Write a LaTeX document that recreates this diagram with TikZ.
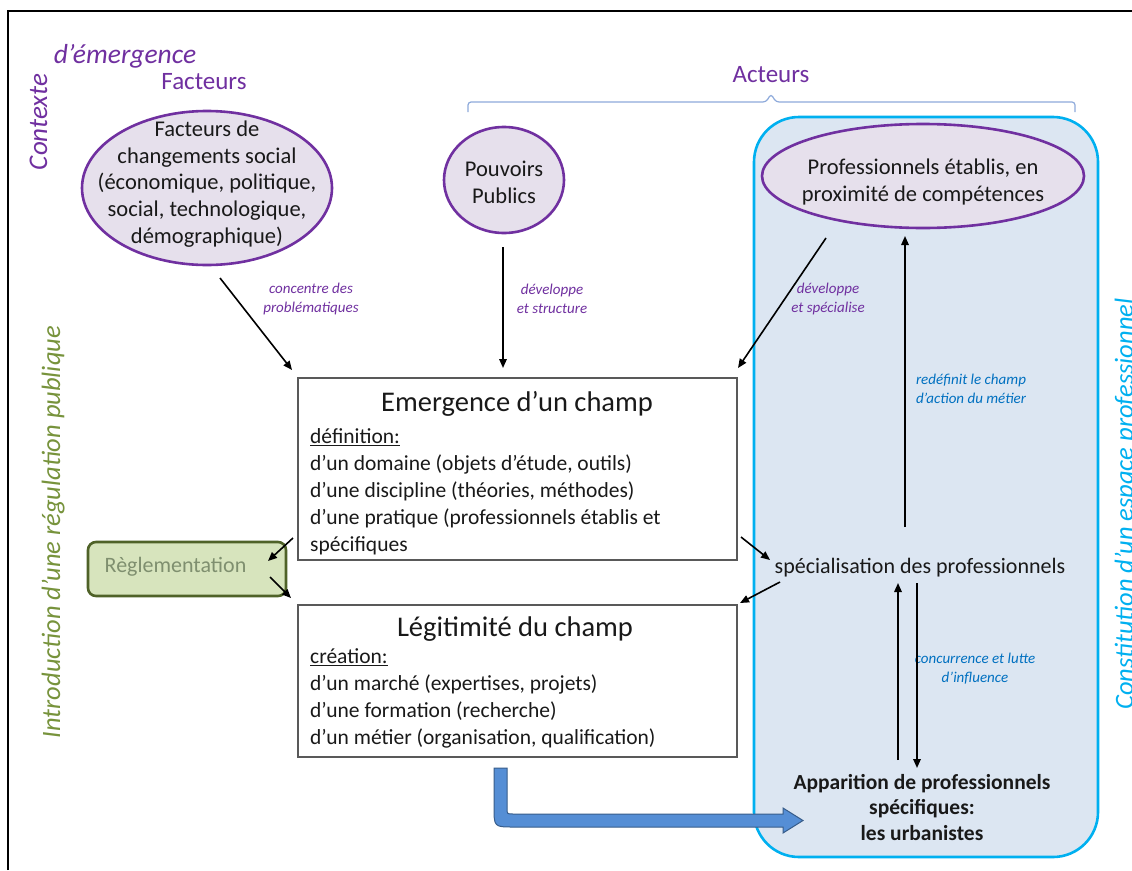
\documentclass[tikz,border=0pt]{standalone}
\usepackage{fontspec}
\setmainfont{Carlito}
\usetikzlibrary{shapes.geometric,arrows.meta}
\definecolor{purpleA}{HTML}{7030A0}
\definecolor{lav}{HTML}{E6E0EC}
\definecolor{zoneFill}{HTML}{DCE6F2}
\definecolor{zoneDraw}{HTML}{00B0F0}
\definecolor{blueT}{HTML}{0070C0}
\definecolor{greenT}{HTML}{77933C}
\definecolor{reglFill}{HTML}{D7E4BD}
\definecolor{reglDraw}{HTML}{4F6228}
\definecolor{reglText}{HTML}{7F8F6F}
\definecolor{braceC}{HTML}{8EAADB}
\definecolor{bigFill}{HTML}{558ED5}
\definecolor{bigDraw}{HTML}{385D8A}
\newcommand{\myfs}[2]{\fontsize{#1}{#2}\selectfont}
\begin{document}
\begin{tikzpicture}[x=1pt,y=-1pt,
  arr/.style={line width=1.6pt,-{Triangle[length=9pt,width=7.5pt]}},
  ell/.style={ellipse,draw=purpleA,line width=2.6pt,fill=lav,inner sep=0pt},
  txt/.style={font=\myfs{22.5}{26.7},align=center,inner sep=0pt,text=black!90},
  body/.style={font=\myfs{21.5}{27},align=left,inner sep=0pt,text=black!90},
  boxr/.style={draw=black!65,line width=1.2pt,fill=white,inner sep=0pt},
  lblp/.style={font=\myfs{15}{19}\itshape,align=center,inner sep=0pt,text=purpleA},
  lblb/.style={font=\myfs{15}{19}\itshape,align=center,inner sep=0pt,text=blueT},
  side/.style={font=\myfs{27}{32}\itshape,inner sep=0pt,rotate=90,anchor=base}]
\useasboundingbox (0,0) rectangle (1132,870);
\fill[white] (0,0) rectangle (1132,870);
% frame
\draw[line width=2pt] (8,870) -- (8,11) -- (1132,11);
% side titles
\node[side,text=purpleA] (ctx) at (47,122) {Contexte};
\node[font=\myfs{27.5}{32}\itshape,text=purpleA,inner sep=0pt] (emg) at (125,56) {d’émergence};
\node[font=\myfs{25}{30},text=purpleA,inner sep=0pt] (fac) at (204,82) {Facteurs};
\node[font=\myfs{25}{30},text=purpleA,inner sep=0pt] (act) at (771,75) {Acteurs};
\node[side,font=\myfs{26.5}{32}\itshape,text=greenT] (intro) at (60,532) {Introduction d’une régulation publique};
\node[side,font=\myfs{26.5}{32}\itshape,text=zoneDraw] (const) at (1133,504) {Constitution d’un espace professionnel};
% brace
\draw[braceC,line width=1.2pt,rounded corners=3pt] (468,112) -- (468,102) -- (766,102) -- (771,94) -- (776,102) -- (1075,102) -- (1075,112);
% zone
\node[draw=zoneDraw,fill=zoneFill,line width=2.6pt,rounded corners=45pt,minimum width=344pt,minimum height=740pt,inner sep=0pt] (zone) at (926,487) {};
% ellipses
\node[ell,minimum width=250pt,minimum height=154pt] (fact) at (207,188) {};
\node[txt] (facttxt) at (207,184) {Facteurs de\\changements social\\(économique, politique,\\social, technologique,\\démographique)};
\node[ell,minimum width=120pt,minimum height=106pt] (pouv) at (504,180) {};
\node[txt] (pouvtxt) at (504,182) {Pouvoirs\\Publics};
\node[ell,minimum width=322pt,minimum height=104pt] (prof) at (923,176) {};
\node[txt] (proftxt) at (923,182) {Professionnels établis, en\\proximité de compétences};
% main boxes
\node[boxr,minimum width=439pt,minimum height=182pt] (emer) at (517.5,469) {};
\node[font=\myfs{28.5}{34},inner sep=0pt,text=black!90] (emert) at (517,404) {Emergence d’un champ};
\node[body,anchor=west] (emerb) at (310,492) {\underline{définition:}\\d’un domaine (objets d’étude, outils)\\d’une discipline (théories, méthodes)\\d’une pratique (professionnels établis et\\spécifiques};
\node[boxr,minimum width=439pt,minimum height=152pt] (legit) at (517.5,681) {};
\node[font=\myfs{28.5}{34},inner sep=0pt,text=black!90] (legitt) at (515,629) {Légitimité du champ};
\node[body,anchor=west] (legitb) at (310,698.5) {\underline{création:}\\d’un marché (expertises, projets)\\d’une formation (recherche)\\d’un métier (organisation, qualification)};
% reglementation
\node[draw=reglDraw,fill=reglFill,line width=2.6pt,rounded corners=8pt,minimum width=198pt,minimum height=54pt,inner sep=0pt] (regl) at (187,569) {};
\node[font=\myfs{22}{26},text=reglText,inner sep=0pt] (regltxt) at (175.5,567) {Règlementation};
% right texts
\node[txt,font=\myfs{22}{26}] (spec) at (920,568) {spécialisation des professionnels};
\node[txt,font=\myfs{21.5}{25.5}\bfseries] (appa) at (922,807.5) {Apparition de professionnels\\spécifiques:\\les urbanistes};
% labels
\node[lblp] (l1) at (311,299) {concentre des\\problématiques};
\node[lblp] (l2) at (552,299) {développe\\et structure};
\node[lblp] (l3) at (828,299) {développe\\et spécialise};
\node[lblb] (l4) at (971,389) {redéfinit le champ\\d’action du métier};
\node[lblb] (l5) at (975,669) {concurrence et lutte\\d’influence};
% arrow end points
\coordinate (a1s) at (220,278); \coordinate (a1e) at (292,370);
\coordinate (a2s) at (503,247); \coordinate (a2e) at (503,368);
\coordinate (a3s) at (826,238); \coordinate (a3e) at (738,368);
\coordinate (a4s) at (293,538); \coordinate (a4e) at (268,561);
\coordinate (a5s) at (270,577); \coordinate (a5e) at (291,598);
\coordinate (a6s) at (741,537); \coordinate (a6e) at (770,560);
\coordinate (a7s) at (780,582); \coordinate (a7e) at (740,603);
\coordinate (a8s) at (905,527); \coordinate (a8e) at (905,236);
\coordinate (a9s) at (898,760); \coordinate (a9e) at (898,583);
\coordinate (a10s) at (917,583); \coordinate (a10e) at (917,768);
\draw[arr] (a1s) -- (a1e);
\draw[arr] (a2s) -- (a2e);
\draw[arr] (a3s) -- (a3e);
\draw[arr] (a4s) -- (a4e);
\draw[arr] (a5s) -- (a5e);
\draw[arr] (a6s) -- (a6e);
\draw[arr] (a7s) -- (a7e);
\draw[arr] (a8s) -- (a8e);
\draw[arr] (a9s) -- (a9e);
\draw[arr] (a10s) -- (a10e);
% big blue arrow
\draw[fill=bigFill,draw=bigDraw,line width=1pt,line join=miter]
  (494,768) -- (507,768) -- (507,808) .. controls (507,814) .. (513,814)
  -- (783,814) -- (783,808) -- (803,820.5) -- (783,833) -- (783,827)
  -- (514,827) .. controls (494,827) .. (494,807) -- cycle;
\end{tikzpicture}
\end{document}
